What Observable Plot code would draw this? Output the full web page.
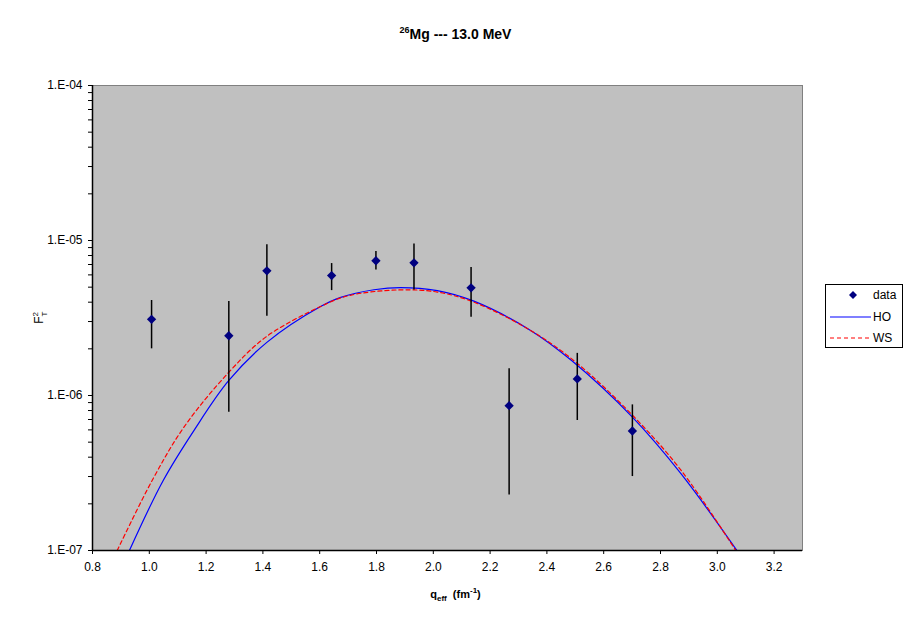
<!DOCTYPE html>
<html><head><meta charset="utf-8">
<script src="https://cdn.jsdelivr.net/npm/d3@7"></script>
<script src="https://cdn.jsdelivr.net/npm/@observablehq/plot@0.6"></script>
<style>
body{margin:0;background:#fff;font-family:Arial,"Liberation Sans",sans-serif;}
#wrap{position:relative;width:911px;height:623px;overflow:hidden;}
#wrap > svg{position:absolute;left:0;top:0;}
.abs{position:absolute;color:#000;}
</style></head><body>
<div id="wrap"></div>
<script>
// data points
const qData = [1.008, 1.280, 1.414, 1.642, 1.798, 1.932, 2.133, 2.267, 2.507, 2.701];
const f2Data = [3.1e-6, 2.43e-6, 6.37e-6, 5.94e-6, 7.4e-6, 7.18e-6, 4.95e-6, 8.6e-7, 1.28e-6, 5.9e-7];
const errLow = [2.0e-6, 7.8e-7, 3.25e-6, 4.75e-6, 6.45e-6, 4.8e-6, 3.2e-6, 2.28e-7, 6.9e-7, 3.0e-7];
const errHigh = [4.1e-6, 4.04e-6, 9.4e-6, 7.1e-6, 8.5e-6, 9.5e-6, 6.7e-6, 1.49e-6, 1.87e-6, 8.7e-7];
// HO curve
const hoQ = [0.930, 1.049, 1.157, 1.280, 1.415, 1.603, 1.674, 1.791, 1.885, 2.014, 2.143, 2.344, 2.487, 2.701, 2.872, 3.069];
const hoF = [1.0e-7, 2.83e-7, 5.94e-7, 1.25e-6, 2.21e-6, 3.75e-6, 4.3e-6, 4.81e-6, 4.97e-6, 4.75e-6, 4.06e-6, 2.62e-6, 1.68e-6, 7.25e-7, 3.13e-7, 1.0e-7];
// WS curve
const wsQ = [0.887, 1.010, 1.122, 1.275, 1.410, 1.603, 1.700, 1.880, 2.014, 2.143, 2.344, 2.500, 2.700, 2.872, 3.065];
const wsF = [1.0e-7, 2.83e-7, 6.25e-7, 1.38e-6, 2.38e-6, 3.75e-6, 4.4e-6, 4.80e-6, 4.65e-6, 4.0e-6, 2.62e-6, 1.65e-6, 7.5e-7, 3.3e-7, 1.0e-7];
// ticks
const xTicks = [0.8, 1.0, 1.2, 1.4, 1.6, 1.8, 2.0, 2.2, 2.4, 2.6, 2.8, 3.0, 3.2];
const yMajor = [1e-7, 1e-6, 1e-5, 1e-4];
const yLabels = ["1.E-07", "1.E-06", "1.E-05", "1.E-04"];

const pts = qData.map((q, i) => ({q, f: f2Data[i], lo: errLow[i], hi: errHigh[i]}));
const ho = hoQ.map((q, i) => ({q, f: hoF[i]}));
const ws = wsQ.map((q, i) => ({q, f: wsF[i]}));
const yAll = [];
for (let e = -7; e < -4; e++) for (let m = 1; m <= 9; m++) yAll.push(m * Math.pow(10, e));
yAll.push(1e-4);
const yFmt = d => {
  const i = yMajor.findIndex(v => Math.abs(v - d) / v < 1e-6);
  return i >= 0 ? yLabels[i] : "";
};

const chart = Plot.plot({
  width: 911, height: 623,
  marginLeft: 92, marginRight: 109, marginTop: 85, marginBottom: 73,
  style: {fontFamily: "Arial, 'Liberation Sans', sans-serif", fontSize: "12px", background: "transparent", color: "#000"},
  x: {domain: [0.8, 3.3], ticks: xTicks, tickFormat: d => d.toFixed(1), tickSize: 4, tickPadding: 8, label: null},
  y: {type: "log", domain: [1e-7, 1e-4], ticks: yAll, tickFormat: yFmt, tickSize: 4, tickPadding: 6, label: null},
  marks: [
    Plot.frame({fill: "#c0c0c0", stroke: "#808080"}),
    Plot.line(ho, {x: "q", y: "f", stroke: "#0000ff", strokeWidth: 1.2, curve: "catmull-rom", clip: true}),
    Plot.line(ws, {x: "q", y: "f", stroke: "#ff0000", strokeWidth: 1.2, strokeDasharray: "4,3", curve: "catmull-rom", clip: true}),
    Plot.ruleX(pts, {x: "q", y1: "lo", y2: "hi", stroke: "#000", strokeWidth: 1.5}),
    Plot.dot(pts, {x: "q", y: "f", symbol: "diamond2", r: 4.2, fill: "#000080", stroke: "none"}),
    Plot.ruleX([0.8], {stroke: "#000", strokeWidth: 1.5}),
    Plot.ruleY([1e-7], {stroke: "#000", strokeWidth: 1.5})
  ]
});
const wrap = document.getElementById("wrap");
wrap.appendChild(chart);

const title = document.createElement("div");
title.className = "abs";
title.style.cssText = "left:0;width:911px;top:25px;text-align:center;font-weight:bold;font-size:14px;";
title.innerHTML = "<sup style='font-size:9px'>26</sup>Mg --- 13.0 MeV";
wrap.appendChild(title);

const xl = document.createElement("div");
xl.className = "abs";
xl.style.cssText = "left:0;width:911px;top:586px;text-align:center;font-weight:bold;font-size:11px;";
xl.innerHTML = "q<sub style='font-size:8px'>eff</sub> &nbsp;(fm<sup style='font-size:8px'>-1</sup>)";
wrap.appendChild(xl);

const yl = document.createElement("div");
yl.className = "abs";
yl.style.cssText = "left:40px;top:318px;transform:translate(-50%,-50%) rotate(-90deg);font-size:12px;white-space:nowrap;";
yl.innerHTML = "F<sub style='font-size:8px'>T</sub><sup style='font-size:8px;margin-left:-5px'>2</sup>";
wrap.appendChild(yl);

const ns = "http://www.w3.org/2000/svg";
const leg = document.createElementNS(ns, "svg");
leg.setAttribute("width", 80); leg.setAttribute("height", 66);
leg.style.cssText = "position:absolute;left:824px;top:283px;";
leg.innerHTML = `
<rect x="1.5" y="1.5" width="77" height="63" fill="#fff" stroke="#000" stroke-width="1"/>
<path d="M29,8 L33,12 L29,16 L25,12 Z" fill="#000080"/>
<line x1="6" y1="34" x2="47" y2="34" stroke="#0000ff" stroke-width="1.2"/>
<line x1="6" y1="55" x2="47" y2="55" stroke="#ff0000" stroke-width="1.2" stroke-dasharray="4,3"/>
<text x="49" y="16" font-size="12" font-family="Arial, 'Liberation Sans', sans-serif">data</text>
<text x="49" y="38" font-size="12" font-family="Arial, 'Liberation Sans', sans-serif">HO</text>
<text x="49" y="59" font-size="12" font-family="Arial, 'Liberation Sans', sans-serif">WS</text>`;
wrap.appendChild(leg);
</script>
</body></html>
